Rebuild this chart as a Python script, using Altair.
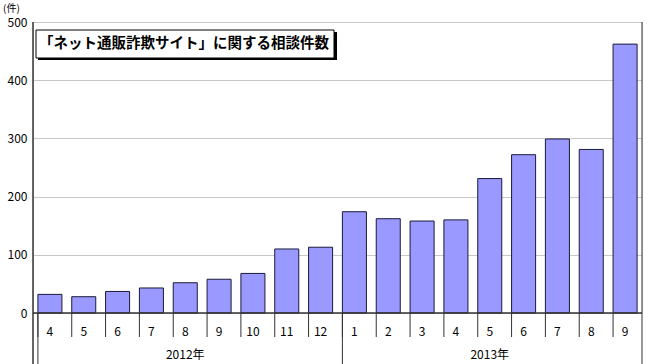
import altair as alt
import pandas as pd

years = ["2012"] * 9 + ["2013"] * 9
months = ["4", "5", "6", "7", "8", "9", "10", "11", "12",
          "1", "2", "3", "4", "5", "6", "7", "8", "9"]
values = [32, 28, 37, 43, 52, 58, 68, 110, 113,
          174, 162, 158, 160, 231, 272, 299, 281, 462]
year_labels = ["2012年", "2013年"]
year_mid_keys = ["2012-8", "2013-5"]
year_start_keys = ["2012-4", "2013-1"]
title_text = "「ネット通販詐欺サイト」に関する相談件数"

keys = [f"{y}-{m}" for y, m in zip(years, months)]
df = pd.DataFrame({"key": keys, "month": months, "year": years, "value": values})
ydf = pd.DataFrame({"key": year_mid_keys, "label": year_labels})
sdf = pd.DataFrame({"key": year_start_keys})
one = pd.DataFrame({"k": [0]})

FONT = "Noto Sans CJK JP"
W, H = 609, 291

xscale = alt.Scale(domain=keys, paddingInner=0.29, paddingOuter=0.145)
X = alt.X("key:N", sort=keys, scale=xscale, axis=None)

base = alt.Chart(df)

bars = base.mark_bar(fill="#9999ff", stroke="#1a1a3a", strokeWidth=1).encode(
    x=X,
    y=alt.Y("value:Q", scale=alt.Scale(domain=[0, 500], nice=False),
            axis=alt.Axis(values=[0, 100, 200, 300, 400, 500], title=None,
                          grid=True, gridColor="#c8c8c8", ticks=False,
                          domain=False, labelFont=FONT, labelFontSize=12,
                          labelColor="#000", labelPadding=6)),
)

month_text = base.mark_text(font=FONT, fontSize=12, color="#000").encode(
    x=X, y=alt.value(H + 19), text="month:N"
)

cat_ticks = base.mark_rule(color="#333", strokeWidth=1).encode(
    x=alt.X("key:N", sort=keys, scale=xscale, axis=None, bandPosition=0),
    y=alt.value(H), y2=alt.value(H + 24),
)

year_sep = alt.Chart(sdf).mark_rule(color="#333", strokeWidth=1).encode(
    x=alt.X("key:N", sort=keys, scale=xscale, axis=None, bandPosition=0),
    y=alt.value(H), y2=alt.value(H + 51),
)

right_edge = alt.Chart(one).mark_rule(color="#333", strokeWidth=1).encode(
    x=alt.value(W), y=alt.value(0), y2=alt.value(H + 51)
)

left_edge = alt.Chart(one).mark_rule(color="#333", strokeWidth=1.5).encode(
    x=alt.value(0), y=alt.value(0), y2=alt.value(H + 51)
)

zero_line = alt.Chart(one).mark_rule(color="#333", strokeWidth=1.5).encode(
    x=alt.value(0), x2=alt.value(W), y=alt.value(H)
)

year_text = alt.Chart(ydf).mark_text(font=FONT, fontSize=12, color="#000").encode(
    x=alt.X("key:N", sort=keys, scale=xscale, axis=None),
    y=alt.value(H + 42), text="label:N",
)

shadow = alt.Chart(one).mark_rect(fill="#000").encode(
    x=alt.value(5), x2=alt.value(304), y=alt.value(10), y2=alt.value(38)
)
box = alt.Chart(one).mark_rect(fill="#fff", stroke="#000", strokeWidth=1).encode(
    x=alt.value(3), x2=alt.value(301), y=alt.value(8), y2=alt.value(36)
)
title = alt.Chart(one).mark_text(font=FONT, fontSize=14.5, fontWeight="bold",
                                 color="#000", align="left", baseline="middle").encode(
    x=alt.value(6), y=alt.value(22), text=alt.value(title_text)
)
unit = alt.Chart(one).mark_text(font=FONT, fontSize=10, color="#000",
                                align="left", baseline="middle").encode(
    x=alt.value(-30), y=alt.value(-13.5), text=alt.value("(件)")
)

chart = alt.layer(
    bars, zero_line, cat_ticks, year_sep, right_edge, left_edge,
    month_text, year_text, shadow, box, title, unit
).properties(
    width=W, height=H,
    autosize=alt.AutoSizeParams(type="none"),
    padding={"left": 33, "top": 22, "right": 8, "bottom": 51},
).configure_view(stroke="#555", strokeWidth=1).configure(background="white")

chart.save("out.html", embed_options={"renderer": "svg", "actions": False})
